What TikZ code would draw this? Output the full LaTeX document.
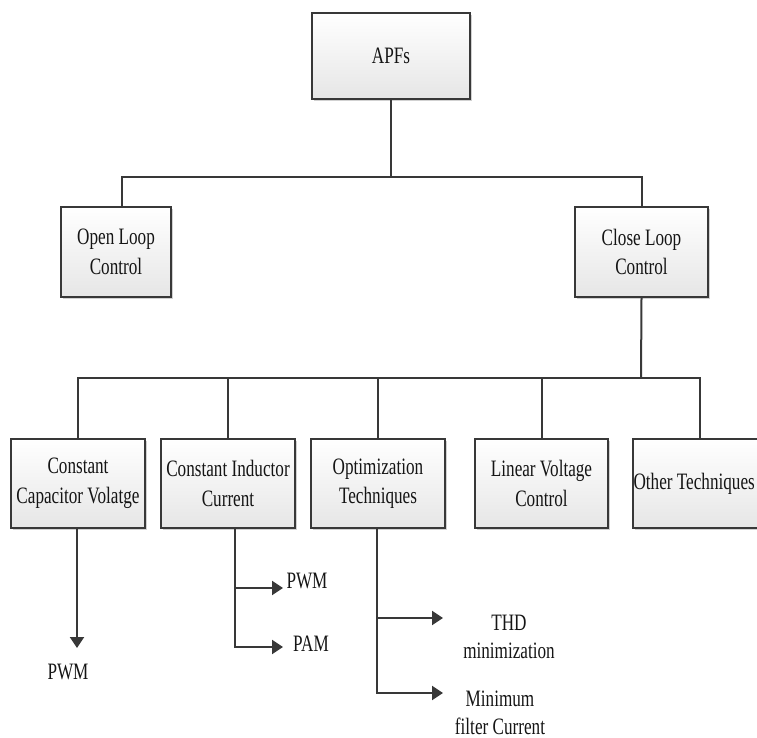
\documentclass[tikz,border=0pt]{standalone}
\usepackage{fontspec}
\setmainfont{Liberation Serif}[FakeStretch=0.73]
\usetikzlibrary{arrows.meta,shadows}
\definecolor{edge}{HTML}{383838}
\definecolor{boxbot}{HTML}{E6E6E6}
\definecolor{ink}{HTML}{151515}
\begin{document}
\begin{tikzpicture}[x=1pt,y=-1pt,
  tbox/.style={draw=edge, line width=2pt, top color=white, bottom color=boxbot,
    align=center, inner sep=0pt, text=ink,
    font=\fontsize{23.5}{29.5}\selectfont,
    drop shadow={shadow xshift=1.8pt, shadow yshift=-1.8pt, fill=black, opacity=0.18}},
  leaf/.style={align=center, inner sep=0pt, text=ink, font=\fontsize{23.5}{27.5}\selectfont},
  link/.style={draw=edge, line width=2pt},
  arr/.style={link, -{Triangle[length=11pt,width=14pt]}}
]
\useasboundingbox (0,0) rectangle (757,738);
\clip (0,0) rectangle (757,738);

% tree boxes
\node[tbox, minimum width=158pt, minimum height=86pt] (apfs)  at (391,56)    {APFs};
\node[tbox, minimum width=110pt, minimum height=90pt] (open)  at (116,252)   {Open Loop\\Control};
\node[tbox, minimum width=133pt, minimum height=90pt] (close) at (641.5,252) {Close Loop\\Control};

\node[tbox, minimum width=134pt, minimum height=89pt] (b1) at (78,483.5)    {Constant\\Capacitor Volatge};
\node[tbox, minimum width=134pt, minimum height=89pt] (b2) at (228,483.5)   {Constant Inductor\\Current};
\node[tbox, minimum width=134pt, minimum height=89pt] (b3) at (378,483.5)   {Optimization\\Techniques};
\node[tbox, minimum width=133pt, minimum height=89pt] (b4) at (541.5,483.5) {Linear Voltage\\Control};
\node[tbox, minimum width=134pt, minimum height=89pt] (b5) at (700,483.5)   {};
\node[text=ink, font=\fontsize{23.5}{29.5}\selectfont, inner sep=0pt, anchor=east] (b5t)
  at (755,483.5) {Other Techniques};

% junction points of the two buses
\coordinate (bus1) at (391,177);
\coordinate (bus2) at (641,378);

\draw[link] (apfs.south) -- (bus1);
\draw[link] (bus1) -| ([xshift=6pt]open.north);
\draw[link] (bus1) -| (close.north);

\draw[link] (close.south) -- (bus2);
\foreach \b in {b1,b2,b3,b4,b5}
  \draw[link] (bus2) -| (\b.north);

% leaves
\node[leaf] (pwmA) at (68,672)  {PWM};
\node[leaf] (pwmB) at (307,581) {PWM};
\node[leaf] (pamB) at (311,644) {PAM};
\node[leaf] (thd)  at (509,637) {THD\\minimization};
\node[leaf] (minf) at (500,713) {Minimum\\filter Current};

\coordinate (tipA)  at (77,648);
\coordinate (tipB1) at (283,588);
\coordinate (tipB2) at (283,647);
\coordinate (tipC1) at (443,618);
\coordinate (tipC2) at (443,693);

\draw[arr] (b1.south -| tipA) -- (tipA);
\draw[arr] ([xshift=7pt]b2.south) |- (tipB1);
\draw[arr] ([xshift=7pt]b2.south) |- (tipB2);
\draw[arr] ([xshift=-1pt]b3.south) |- (tipC1);
\draw[arr] ([xshift=-1pt]b3.south) |- (tipC2);
\end{tikzpicture}
\end{document}
